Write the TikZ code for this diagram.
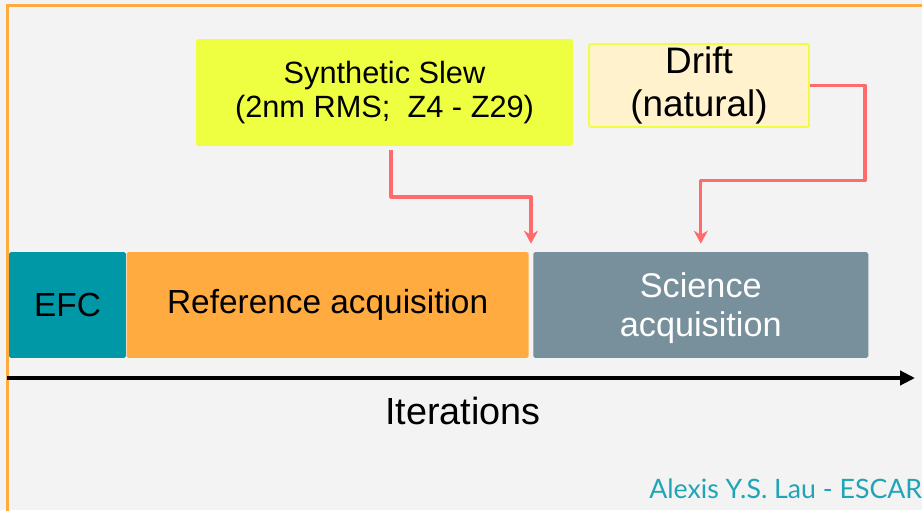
\documentclass[tikz,border=0pt]{standalone}
\usepackage{fontspec}
\setmainfont{Liberation Sans}
\newfontfamily\creditfont{Lato}
\usetikzlibrary{positioning,arrows.meta}
\definecolor{efcteal}{HTML}{0097A7}
\definecolor{refamber}{HTML}{FFAB40}
\definecolor{scigrey}{HTML}{78909C}
\definecolor{slewlime}{HTML}{EEFF41}
\definecolor{driftcream}{HTML}{FFF2CC}
\definecolor{feedred}{HTML}{FF6B6B}
\definecolor{slidebg}{HTML}{F3F3F3}
\definecolor{creditteal}{HTML}{1FA6B6}
\tikzset{>=Stealth,
phase/.style={inner sep=0pt,minimum height=2.12cm,rounded corners=1pt,align=center,font=\fontsize{19}{21}\selectfont}, % blocks on the time line
disturb/.style={inner sep=0pt,rounded corners=1pt,align=center}, % boxes that feed the time line
feed/.style={-{Stealth[length=7.4pt,width=8pt]},feedred,line width=1.9pt,line join=round}, % red injection arrows
axis/.style={-{Triangle[length=8.5pt,width=8pt]},line width=2.3pt} % iteration axis
}

\begin{document}
\begin{tikzpicture}[x=0.02cm,y=-0.02cm]
    \clip (0,0) rectangle (922,510);
    \fill[slidebg] (0,0) rectangle (922,510);
    \draw[refamber,line width=1.9pt] (7.5,5.5) rectangle (1000,600);

    % time line
    \node[phase,fill=efcteal,minimum width=2.34cm] (efc) at (67.5,305) {EFC};
    \node[phase,fill=refamber,minimum width=8.04cm,right=0cm of efc] (ref) {Reference acquisition};
    \node[phase,fill=scigrey,text=white,minimum width=6.7cm,right=0.08cm of ref,font=\fontsize{19.5}{22.5}\selectfont] (sci) {\rule{0pt}{0.9em}Science\\acquisition};

    % disturbances
    \node[disturb,fill=slewlime,minimum width=7.54cm,minimum height=2.14cm,font=\fontsize{17.5}{19.5}\selectfont] (slew) at (384.5,92.5) {Synthetic Slew\\(2nm RMS;\ \ Z4 - Z29)};
    \node[disturb,fill=driftcream,draw=slewlime,line width=1.1pt,minimum width=4.4cm,minimum height=1.66cm,font=\fontsize{21}{24.5}\selectfont] (drift) at (699,85.5) {Drift\\(natural)};

    \draw[feed] ([xshift=0.13cm,yshift=-0.08cm]slew.south) -- ++(0,46.5) -| ([xshift=0.04cm,yshift=0.16cm]ref.north east);
    \draw[feed] (drift.east) -- ++(55,0) -- ++(0,95) -| ([yshift=0.16cm]sci.north);

    % axis
    \coordinate (t0) at (7,378);
    \coordinate (t1) at (915,378);
    \draw[axis] (t0) -- (t1);
    \node[font=\fontsize{21.5}{24}\selectfont] (iter) at (463,411) {Iterations};

    \node[anchor=base west,text=creditteal,inner sep=0pt,font=\creditfont\fontsize{15.2}{17}\selectfont] (credit) at (649,498) {Alexis Y.S. Lau - ESCAR};
\end{tikzpicture}
\end{document}
